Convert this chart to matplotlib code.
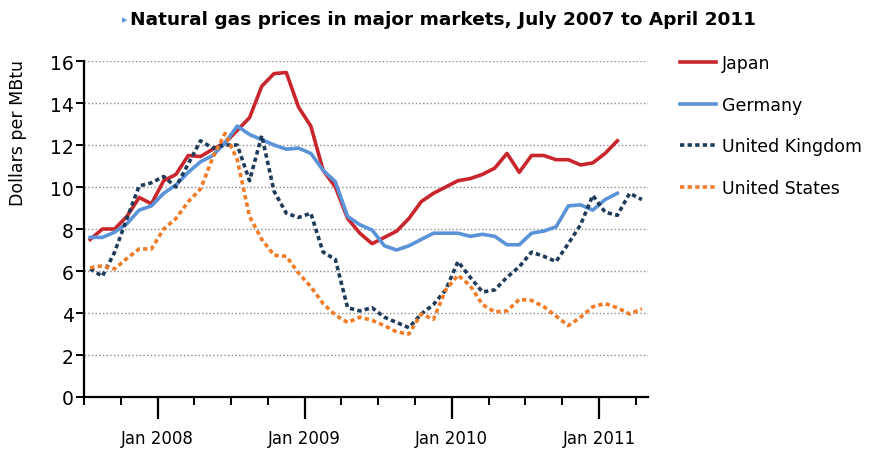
import numpy as np
import matplotlib
matplotlib.use("Agg")
import matplotlib.pyplot as plt

# Monthly prices ($/MBtu), July 2007 onwards
japan = [7.5, 8.0, 8.0, 8.6, 9.5, 9.2, 10.3, 10.6, 11.5, 11.45, 11.8, 12.1, 12.7, 13.3, 14.8,
         15.4, 15.45, 13.8, 12.9, 10.8, 10.0, 8.5, 7.8, 7.3, 7.6, 7.9, 8.5, 9.3, 9.7, 10.0,
         10.3, 10.4, 10.6, 10.9, 11.6, 10.7, 11.5, 11.5, 11.3, 11.3, 11.05, 11.15, 11.6, 12.2]
germany = [7.6, 7.6, 7.85, 8.25, 8.9, 9.1, 9.7, 10.1, 10.7, 11.2, 11.5, 12.1, 12.9, 12.5, 12.25,
           12.0, 11.8, 11.85, 11.6, 10.8, 10.25, 8.6, 8.2, 7.95, 7.2, 7.0, 7.2, 7.5, 7.8, 7.8,
           7.8, 7.65, 7.75, 7.65, 7.25, 7.25, 7.8, 7.9, 8.1, 9.1, 9.15, 8.9, 9.4, 9.7]
uk = [6.1, 5.75, 6.9, 8.5, 10.05, 10.2, 10.5, 10.0, 11.1, 12.2, 11.85, 12.0, 12.0, 10.3, 12.45,
      9.8, 8.75, 8.55, 8.75, 6.9, 6.55, 4.25, 4.1, 4.25, 3.8, 3.55, 3.3, 3.95, 4.4, 5.1,
      6.45, 5.7, 5.0, 5.1, 5.7, 6.2, 6.9, 6.7, 6.45, 7.3, 8.2, 9.6, 8.8, 8.65, 9.7, 9.4]
us = [6.15, 6.25, 6.1, 6.6, 7.05, 7.05, 8.0, 8.5, 9.3, 9.9, 11.4, 12.55, 11.3, 8.6, 7.5,
      6.75, 6.7, 5.9, 5.25, 4.45, 3.9, 3.55, 3.8, 3.65, 3.4, 3.1, 3.0, 3.95, 3.7, 5.1,
      5.8, 5.3, 4.4, 4.05, 4.1, 4.65, 4.6, 4.3, 3.85, 3.4, 3.8, 4.3, 4.45, 4.25, 3.95, 4.2]

tick_months = [6, 18, 30, 42]
tick_labels = ['Jan 2008', 'Jan 2009', 'Jan 2010', 'Jan 2011']

# months counted from 1 July 2007, points placed mid-month
x_jp = np.arange(len(japan)) + 0.5
x_de = np.arange(len(germany)) + 0.5
x_uk = np.arange(len(uk)) + 0.5
x_us = np.arange(len(us)) + 0.5

fig = plt.figure(figsize=(8.69, 4.52), dpi=100)
ax = fig.add_axes([84 / 869, 1 - 398 / 452, (648 - 84) / 869, (398 - 62) / 452])

dots = (0, (1.2, 0.9))
ax.plot(x_jp, japan, color='#c8262c', lw=2.6, label='Japan')
ax.plot(x_de, germany, color='#5b93d8', lw=2.6, label='Germany')
ax.plot(x_uk, uk, color='#1f3b5c', lw=2.6, linestyle=dots, label='United Kingdom')
ax.plot(x_us, us, color='#f07c28', lw=2.6, linestyle=dots, label='United States')

ax.set_xlim(0, 46)
ax.set_ylim(0, 16)
ax.set_yticks(range(0, 17, 2))
ax.set_xticks(tick_months)
ax.set_xticklabels(tick_labels)
ax.set_xticks(range(0, 47, 3), minor=True)

ax.grid(axis='y', linestyle=':', color='#8c8c8c', lw=1)
ax.set_axisbelow(True)
for side in ['top', 'right']:
    ax.spines[side].set_visible(False)
ax.spines['left'].set_linewidth(1.6)
ax.spines['bottom'].set_linewidth(1.6)

ax.tick_params(axis='y', length=6, width=1.4, pad=1.5, labelsize=13.5)
ax.tick_params(axis='x', which='major', length=16, width=1.6, pad=7, labelsize=12)
ax.tick_params(axis='x', which='minor', length=6, width=1.4)

fig.text(18 / 869, 1 - 133 / 452, 'Dollars per MBtu', rotation=90, ha='center', va='center',
         fontsize=12.5)
fig.text(443 / 869, 1 - 20 / 452, 'Natural gas prices in major markets, July 2007 to April 2011',
         ha='center', va='center', fontsize=13.3, fontweight='bold')
fig.text(125 / 869, 1 - 20 / 452, '\u25b8', color='#5b93d8', ha='center', va='center', fontsize=8)

ax.legend(loc='upper left', bbox_to_anchor=(680 / 869, 1 - 55 / 452),
          bbox_transform=fig.transFigure, frameon=False, fontsize=12.5,
          handlelength=2.1, handletextpad=0.3, labelspacing=1.36, borderaxespad=0, borderpad=0)

plt.savefig('out.png', dpi=100)
